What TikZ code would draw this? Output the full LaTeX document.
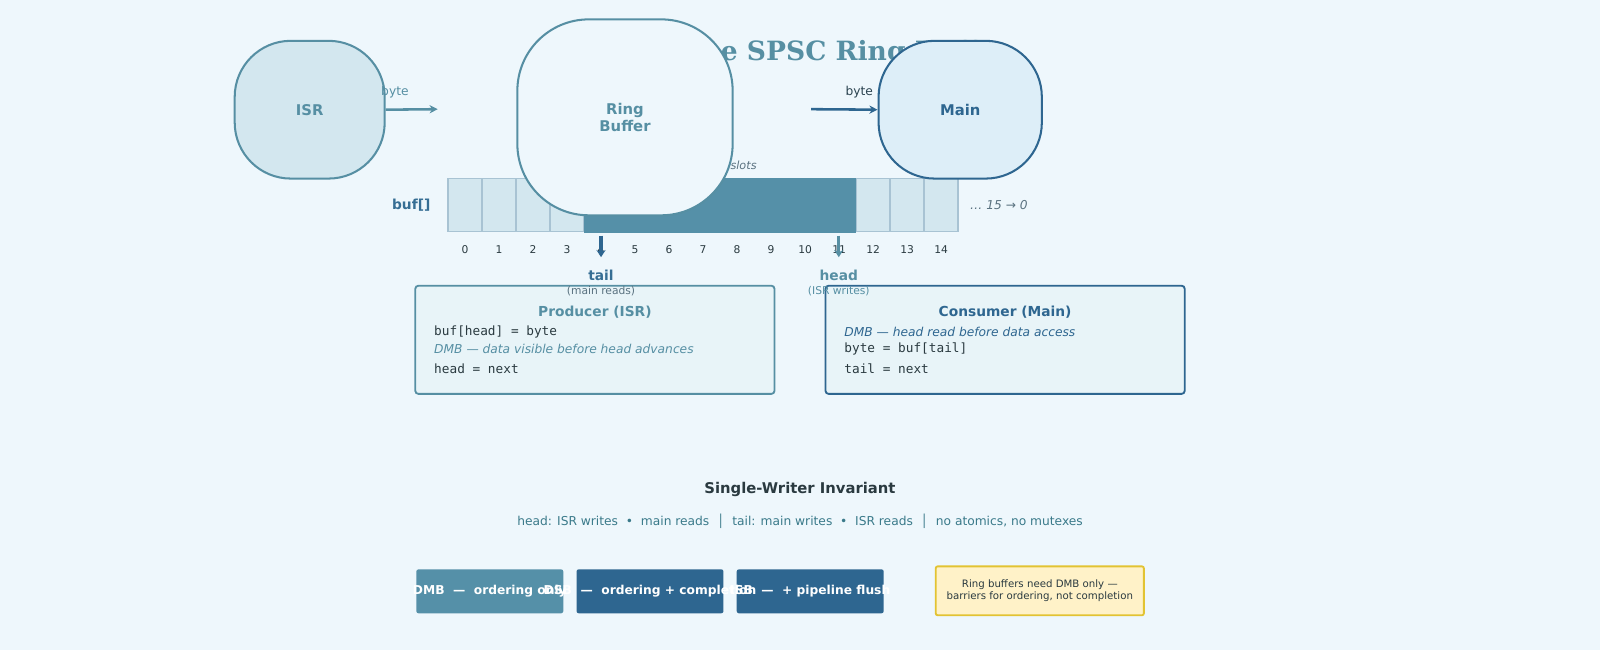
\documentclass[tikz,border=0pt]{standalone}
\usepackage{fontspec}
\setmainfont{DejaVu Sans}
\newfontfamily\serifb{DejaVu Serif}
\setmonofont{DejaVu Sans Mono}
\usetikzlibrary{arrows.meta}
\definecolor{bg}{HTML}{EEF7FC}
\definecolor{teal}{HTML}{568FA3}
\definecolor{navy}{HTML}{2E6690}
\definecolor{cellf}{HTML}{D3E7EF}
\definecolor{cells}{HTML}{A8C3D3}
\definecolor{fillc}{HTML}{5590A8}
\definecolor{txt}{HTML}{2A3A40}
\definecolor{gray1}{HTML}{5A7280}
\definecolor{boxf}{HTML}{E8F4F8}
\definecolor{mainf}{HTML}{DDEEF8}
\definecolor{invc}{HTML}{3A7A8A}
\definecolor{yd}{HTML}{E2C332}
\definecolor{yf}{HTML}{FFF2C8}
\tikzset{
 x=1pt,y=-1pt,
 blob/.style={draw,line width=2pt,rounded corners=55pt,font=\bfseries\fontsize{14.5}{16}\selectfont,align=center},
 cell/.style={draw=cells,fill=cellf,line width=1.6pt},
 idx/.style={font=\fontsize{10.5}{12}\selectfont,text=txt},
 code/.style={anchor=west,font=\ttfamily\fontsize{12.5}{14}\selectfont,text=txt},
 note/.style={anchor=west,font=\itshape\fontsize{12}{14}\selectfont},
 panel/.style={draw,line width=1.8pt,fill=boxf,rounded corners=3pt},
 btn/.style={rounded corners=2pt,minimum width=144pt,minimum height=43pt,inner sep=0pt},
 btnt/.style={text=white,font=\bfseries\fontsize{12}{13}\selectfont},
}
\begin{document}
\begin{tikzpicture}
\fill[bg] (0,0) rectangle (1568,637);
\useasboundingbox (0,0) rectangle (1568,637);
\node[font=\serifb\bfseries\fontsize{26}{28}\selectfont,text=teal] (title) at (784,52) {Lock-Free SPSC Ring Buffer};
\node[anchor=east,font=\itshape\fontsize{11}{12}\selectfont,text=gray1] (slots) at (745,162) {count = 7 slots};
\foreach \i in {0,...,14}{
  \pgfmathsetmacro\xa{439+33.33*\i}
  \pgfmathsetmacro\xb{439+33.33*(\i+1)}
  \draw[cell] (\xa,175) rectangle (\xb,227);
  \node[idx] (i\i) at ({(\xa+\xb)/2},245) {\i};
}
\fill[fillc] (572,174) rectangle (838.5,228);
\node[font=\bfseries\fontsize{13.5}{15}\selectfont,text=navy!80!teal] (buf) at (403,201) {buf[]};
\node[font=\itshape\fontsize{12}{14}\selectfont,text=gray1] (wrap) at (979,201) {… 15 → 0};
\node[blob,draw=teal,fill=cellf,text=teal,minimum width=147pt,minimum height=135pt] (isr) at (303.5,107.5) {ISR};
\node[blob,draw=teal,fill=bg,text=teal,rounded corners=70pt,minimum width=211pt,minimum height=192pt] (ring) at (612.5,115) {Ring\\Buffer};
\node[blob,draw=navy,fill=mainf,text=navy,minimum width=160pt,minimum height=135pt] (main) at (941,107.5) {Main};
\coordinate (a1) at (429,107);
\draw[teal,line width=2.5pt,-{Stealth[length=8pt,width=8pt]}] (isr.east) -- (a1);
\node[font=\fontsize{12}{13}\selectfont,text=teal] (b1) at (387,90) {byte};
\coordinate (a2) at (795,107);
\draw[navy,line width=2.5pt,-{Stealth[length=8pt,width=8pt]}] (a2) -- (main.west);
\node[font=\fontsize{12}{13}\selectfont,text=txt!80!navy] (b2) at (842,90) {byte};
\coordinate (t0) at (589,231);
\coordinate (t1) at (589,252);
\draw[navy,line width=3pt,-{Stealth[length=7pt,width=9pt]}] (t0) -- (t1);
\coordinate (h0) at (822,231);
\coordinate (h1) at (822,252);
\draw[teal,line width=3pt,-{Stealth[length=7pt,width=9pt]}] (h0) -- (h1);
\draw[panel,draw=teal] (407,280) rectangle (759,386);
\draw[panel,draw=navy] (809,280) rectangle (1161,386);
\node[font=\bfseries\fontsize{13.5}{15}\selectfont,text=navy!80!teal] (tail) at (589,270) {tail};
\node[font=\fontsize{10.5}{12}\selectfont,text=gray1] (tailr) at (589,285) {(main reads)};
\node[font=\bfseries\fontsize{13.5}{15}\selectfont,text=teal] (head) at (822,270) {head};
\node[font=\fontsize{10.5}{12}\selectfont,text=teal] (headr) at (822,285) {(ISR writes)};
\node[font=\bfseries\fontsize{13.5}{15}\selectfont,text=teal] (prod) at (583,306) {Producer (ISR)};
\node[code] (p1) at (422,325) {buf[head] = byte};
\node[note,text=teal] (p2) at (422,342) {DMB — data visible before head advances};
\node[code] (p3) at (422,361) {head = next};
\node[font=\bfseries\fontsize{13.5}{15}\selectfont,text=navy] (cons) at (985,306) {Consumer (Main)};
\node[note,text=navy] (c1) at (824,325) {DMB — head read before data access};
\node[code] (c2) at (824,342) {byte = buf[tail]};
\node[code] (c3) at (824,361) {tail = next};
\node[font=\bfseries\fontsize{14.5}{16}\selectfont,text=txt] (inv) at (784,480) {Single-Writer Invariant};
\node[font=\fontsize{12}{14}\selectfont,text=invc] (invl) at (784,511) {head: ISR writes \ • \ main reads \ │ \ tail: main writes \ • \ ISR reads \ │ \ no atomics, no mutexes};
\node[btn,fill=fillc] (dmb) at (480,579.5) {};
\node[btn,fill=navy] (dsb) at (637,579.5) {};
\node[btn,fill=navy] (isb) at (794,579.5) {};
\node[btnt] (dmbt) at (480,579.5) {DMB \ — \ ordering only};
\node[btnt] (dsbt) at (637,579.5) {DSB \ — \ ordering + completion};
\node[btnt] (isbt) at (794,579.5) {ISB \ — \ + pipeline flush};
\node[draw=yd,line width=1.8pt,fill=yf,rounded corners=2pt,minimum width=204pt,minimum height=48pt,align=center,font=\fontsize{10}{12}\selectfont,text=txt] (note) at (1019,579) {Ring buffers need DMB only —\\barriers for ordering, not completion};
\end{tikzpicture}
\end{document}
